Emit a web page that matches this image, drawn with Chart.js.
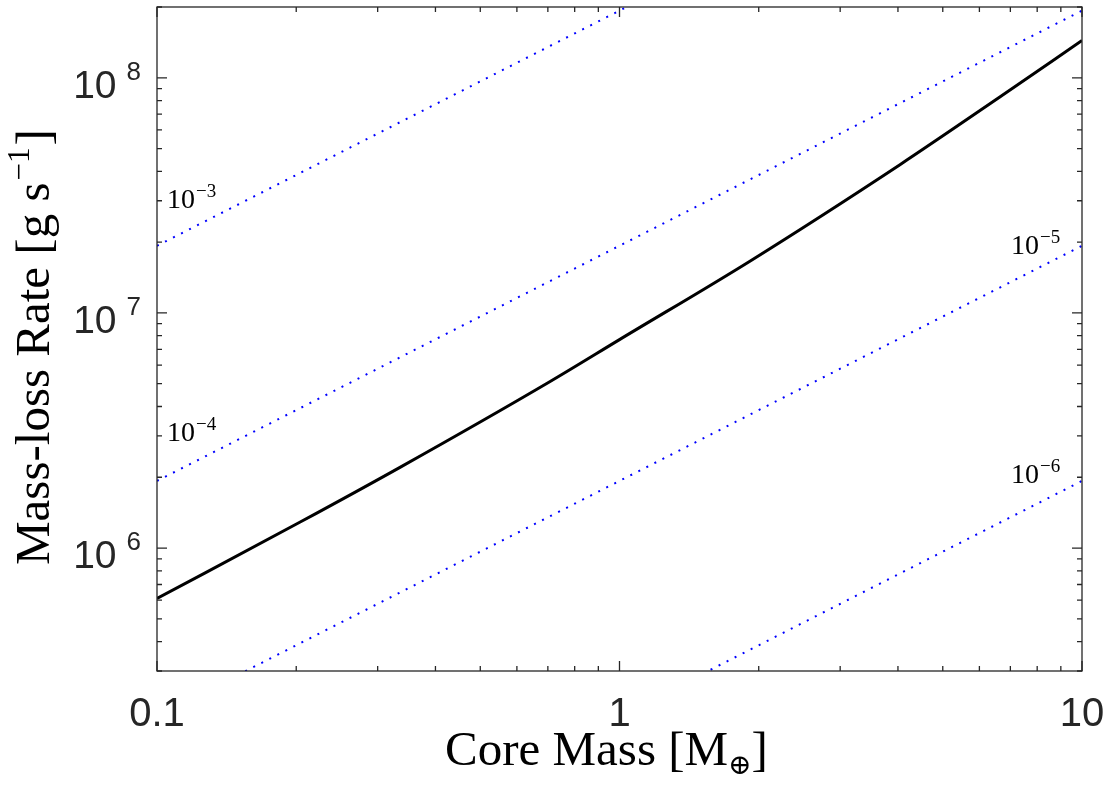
<!DOCTYPE html>
<html>
<head>
<meta charset="utf-8">
<script src="https://cdn.jsdelivr.net/npm/chart.js@4/dist/chart.umd.min.js"></script>
<style>
  html, body { margin: 0; padding: 0; background: #fff; }
  #wrap { width: 1109px; height: 788px; }
</style>
</head>
<body>
<div id="wrap"><canvas id="myChart" width="1109" height="788"></canvas></div>
<script>
// core mass [Earth masses] vs mass-loss rate [g/s]
var coreMass = [0.1, 0.204, 0.336, 0.708, 1, 1.914, 4.04, 6.63, 10];
var massLossRate = [6.1e5, 1.29e6, 2.21e6, 5.11e6, 7.7e6, 1.66e7, 4.27e7, 8.26e7, 1.44e8];

// reference lines, one per efficiency level (end points at M = 0.1 and 10)
var refMass = [0.1, 10];
var ref3 = [1.93e7, 1.93e9];
var ref4 = [1.93e6, 1.93e8];
var ref5 = [1.93e5, 1.93e7];
var ref6 = [1.93e4, 1.93e6];

// exponents printed next to the reference lines
var refLabels = ['−3', '−4', '−5', '−6'];

var xTicks = [0.1, 1, 10];
var xTickText = ['0.1', '1', '10'];
var yTickExp = [6, 7, 8];

var xMin = 0.1, xMax = 10, yMin = 3e5, yMax = 2e8;

function pts(xs, ys) {
    var out = [];
    for (var i = 0; i < xs.length; i++) out.push({x: xs[i], y: ys[i]});
    return out;
}

var SERIF = '"Liberation Serif", "DejaVu Serif", serif';
var SANS = '"Liberation Sans", Arial, sans-serif';
var AXIS = '#262626';

// text with a raised or lowered small part
function richText(ctx, x, y, parts) {
    var cx = x;
    parts.forEach(function(p) {
        ctx.font = p.size + 'px ' + p.font;
        ctx.fillText(p.t, cx, y + (p.dy || 0));
        cx += ctx.measureText(p.t).width + (p.gap || 0);
    });
    return cx;
}
function richWidth(ctx, parts) {
    var w = 0;
    parts.forEach(function(p) {
        ctx.font = p.size + 'px ' + p.font;
        w += ctx.measureText(p.t).width + (p.gap || 0);
    });
    return w;
}

var axesPlugin = {
    id: 'matlabAxes',
    afterDraw: function(chart) {
        var ctx = chart.ctx, a = chart.chartArea;
        var xs = chart.scales.x, ys = chart.scales.y;
        ctx.save();

        // box
        ctx.strokeStyle = AXIS;
        ctx.lineWidth = 1.3;
        ctx.strokeRect(a.left, a.top, a.right - a.left, a.bottom - a.top);

        // inward ticks on all four sides
        ctx.beginPath();
        for (var e = -1; e <= 1; e++) {
            for (var m = 1; m <= 9; m++) {
                var v = m * Math.pow(10, e);
                if (v < xMin || v > xMax) continue;
                var px = xs.getPixelForValue(v);
                var len = m === 1 ? 10 : 5;
                ctx.moveTo(px, a.bottom); ctx.lineTo(px, a.bottom - len);
                ctx.moveTo(px, a.top); ctx.lineTo(px, a.top + len);
            }
        }
        for (var e2 = 5; e2 <= 8; e2++) {
            for (var m2 = 1; m2 <= 9; m2++) {
                var v2 = m2 * Math.pow(10, e2);
                if (v2 < yMin || v2 > yMax) continue;
                var py = ys.getPixelForValue(v2);
                var len2 = m2 === 1 ? 10 : 5;
                ctx.moveTo(a.left, py); ctx.lineTo(a.left + len2, py);
                ctx.moveTo(a.right, py); ctx.lineTo(a.right - len2, py);
            }
        }
        ctx.stroke();

        // x tick labels
        ctx.fillStyle = AXIS;
        ctx.font = '40px ' + SANS;
        ctx.textAlign = 'center';
        ctx.textBaseline = 'alphabetic';
        xTicks.forEach(function(v, i) {
            ctx.fillText(xTickText[i], xs.getPixelForValue(v), 726);
        });

        // y tick labels: 10 with exponent
        ctx.textAlign = 'left';
        yTickExp.forEach(function(ex) {
            var py = ys.getPixelForValue(Math.pow(10, ex));
            var parts = [
                {t: '10', size: 39, font: SANS, gap: 10},
                {t: String(ex), size: 26, font: SANS, dy: -18}
            ];
            var w = richWidth(ctx, parts);
            richText(ctx, a.left - 16 - w, py + 20, parts);
        });

        // reference line labels
        ctx.fillStyle = '#000';
        var labelPos = [
            [167, 208], [167, 441], [1011, 254], [1011, 483]
        ];
        refLabels.forEach(function(s, i) {
            richText(ctx, labelPos[i][0], labelPos[i][1], [
                {t: '10', size: 28, font: SERIF, gap: 1},
                {t: s, size: 19, font: SERIF, dy: -11}
            ]);
        });

        // x axis title
        richText(ctx, 445, 765, [
            {t: 'Core Mass [M', size: 49, font: SERIF},
            {t: '⊕', size: 28, font: SERIF, dy: 9},
            {t: ']', size: 49, font: SERIF}
        ]);

        // y axis title
        ctx.save();
        ctx.translate(49, 565);
        ctx.rotate(-Math.PI / 2);
        richText(ctx, 0, 0, [
            {t: 'Mass-loss Rate [g s', size: 49, font: SERIF, gap: 2},
            {t: '−1', size: 31, font: SERIF, dy: -20, gap: 2},
            {t: ']', size: 49, font: SERIF}
        ]);
        ctx.restore();

        ctx.restore();
    }
};

function refSet(ys) {
    return {
        data: pts(refMass, ys),
        borderColor: 'rgb(0,0,255)',
        borderWidth: 2,
        borderDash: [2, 7],
        borderCapStyle: 'butt',
        pointRadius: 0,
        showLine: true,
        fill: false
    };
}

var ctx = document.getElementById('myChart').getContext('2d');
var chart = new Chart(ctx, {
    type: 'scatter',
    data: {
        datasets: [
            refSet(ref3), refSet(ref4), refSet(ref5), refSet(ref6),
            {
                data: pts(coreMass, massLossRate),
                borderColor: '#000',
                borderWidth: 3,
                pointRadius: 0,
                showLine: true,
                cubicInterpolationMode: 'monotone',
                fill: false
            }
        ]
    },
    options: {
        responsive: false,
        animation: false,
        events: [],
        layout: { padding: { top: 7, right: 27, left: 0, bottom: 0 } },
        plugins: { legend: { display: false }, tooltip: { enabled: false } },
        scales: {
            x: {
                type: 'logarithmic', min: xMin, max: xMax,
                ticks: { display: false }, grid: { display: false }, border: { display: false },
                afterFit: function(s) { s.height = 117; }
            },
            y: {
                type: 'logarithmic', min: yMin, max: yMax,
                ticks: { display: false }, grid: { display: false }, border: { display: false },
                afterFit: function(s) { s.width = 157; }
            }
        }
    },
    plugins: [axesPlugin]
});
</script>
</body>
</html>
